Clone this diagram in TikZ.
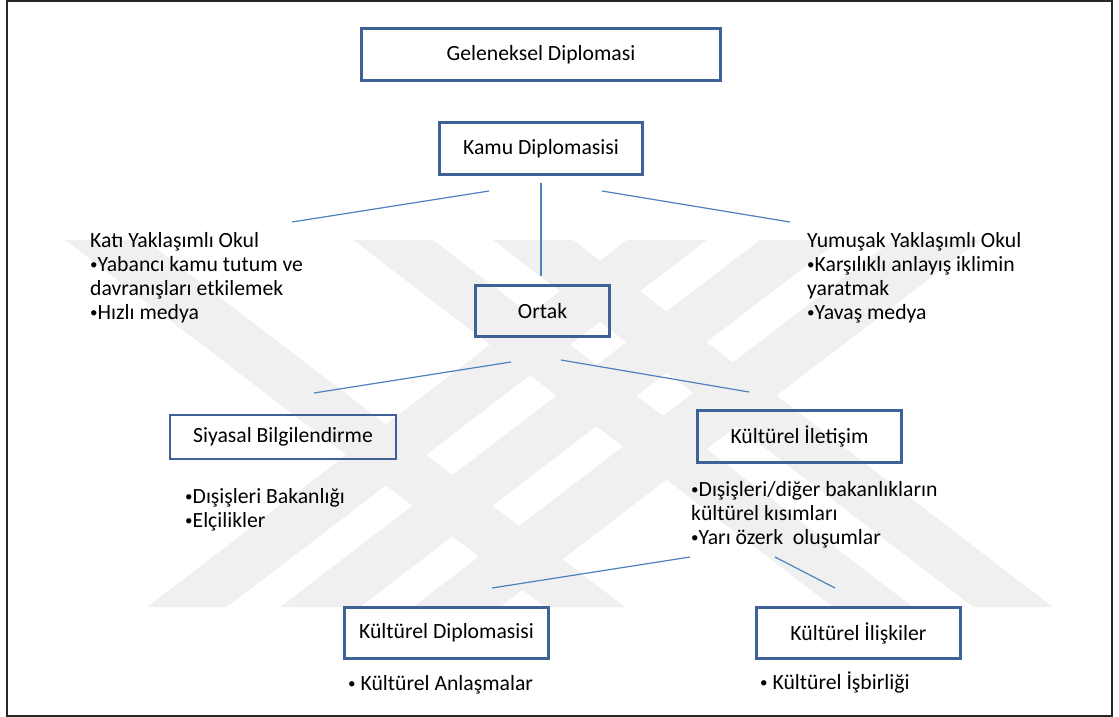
\documentclass[tikz,border=0pt]{standalone}
\usepackage{fontspec}
\setmainfont{Carlito}
\definecolor{boxblue}{RGB}{62,98,150}
\definecolor{linkblue}{RGB}{79,129,189}
\definecolor{wm}{RGB}{240,240,240}
\newcommand{\bul}{\raisebox{1.6pt}{\fontsize{15}{15}\selectfont •}}
\begin{document}
\begin{tikzpicture}[x=1pt,y=-1pt,
  font=\fontsize{21.7}{24}\selectfont,
  box/.style={draw=boxblue, line width=2.6pt, inner sep=0pt, align=center, fill=none},
  link/.style={draw=linkblue, line width=1.2pt},
  txt/.style={anchor=base west, inner sep=0pt},
  wmband/.style={fill=wm, draw=none}]
\useasboundingbox (0,0) rectangle (1119,717);
% watermark bands
\foreach \a/\b in {147/227,280/360,413/500}
  \fill[wmband] (\a,607) -- (\b,607) -- (\b+480,240) -- (\a+480,240) -- cycle;
\foreach \a/\b in {65/145,353/433,493/573}
  \fill[wmband] (\a,240) -- (\b,240) -- (\b+480,607) -- (\a+480,607) -- cycle;
% frame
\draw[line width=2pt, black!85] (7,1.5) rectangle (1112,715.5);
% boxes
\node[box, minimum width=359pt, minimum height=52pt] (gel) at (541,54.5) {Geleneksel Diplomasi};
\node[box, minimum width=203pt, minimum height=52pt] (kamu) at (541,148.5) {Kamu Diplomasisi};
\node[box, minimum width=134pt, minimum height=51pt] (ortak) at (542.5,311) {Ortak};
\node[box, minimum width=226pt, minimum height=44pt] (siy) at (283,437) {Siyasal Bilgilendirme};
\node[box, minimum width=204pt, minimum height=52pt] (kil) at (799.5,436.5) {Kültürel İletişim};
\node[box, minimum width=204pt, minimum height=51pt] (kdip) at (446.5,633) {Kültürel Diplomasisi};
\node[box, minimum width=204pt, minimum height=51pt] (kili) at (858.5,633) {Kültürel İlişkiler};
% text blocks
\node[txt] (h1) at (90,247) {Katı Yaklaşımlı Okul};
\node[txt] (h2) at (90,271) {\bul Yabancı kamu tutum ve};
\node[txt] (h3) at (90,295) {davranışları etkilemek};
\node[txt] (h4) at (90,319) {\bul Hızlı medya};
\node[txt] (s1) at (807,247) {Yumuşak Yaklaşımlı Okul};
\node[txt] (s2) at (807,271) {\bul Karşılıklı anlayış iklimin};
\node[txt] (s3) at (807,295) {yaratmak};
\node[txt] (s4) at (807,319) {\bul Yavaş medya};
\node[txt] (b1) at (185,503) {\bul Dışişleri Bakanlığı};
\node[txt] (b2) at (185,527) {\bul Elçilikler};
\node[txt] (c1) at (691,496) {\bul Dışişleri/diğer bakanlıkların};
\node[txt] (c2) at (691,520) {kültürel kısımları};
\node[txt] (c3) at (691,544) {\bul Yarı özerk~ oluşumlar};
\node[txt] (d1) at (348,690) {\bul\ Kültürel Anlaşmalar};
\node[txt] (e1) at (760,689) {\bul\ Kültürel İşbirliği};
% connector ends
\coordinate (kamuL) at (489,191);
\coordinate (hardE) at (292,222);
\coordinate (kamuB) at (541,183);
\coordinate (ortakT) at (541,276);
\coordinate (kamuR) at (602,191);
\coordinate (softE) at (790,222);
\coordinate (ortakL) at (511,362);
\coordinate (siyE) at (314,393);
\coordinate (ortakR) at (561,360);
\coordinate (kilE) at (749,392);
\coordinate (cL) at (690,557);
\coordinate (kdipE) at (492,588);
\coordinate (cR) at (775,557);
\coordinate (kiliE) at (835,588);
\draw[link] (kamuL) -- (hardE);
\draw[link] (kamuB) -- (ortakT);
\draw[link] (kamuR) -- (softE);
\draw[link] (ortakL) -- (siyE);
\draw[link] (ortakR) -- (kilE);
\draw[link] (cL) -- (kdipE);
\draw[link] (cR) -- (kiliE);
\end{tikzpicture}
\end{document}
